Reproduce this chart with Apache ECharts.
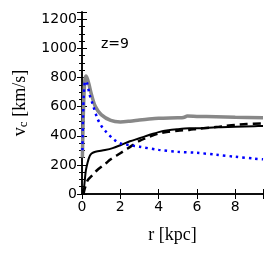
<!DOCTYPE html>
<html><head><meta charset="utf-8">
<script src="https://cdn.jsdelivr.net/npm/echarts@6/dist/echarts.min.js"></script>
<style>html,body{margin:0;padding:0;background:#fff}#c{width:275px;height:256px}</style>
</head><body><div id="c"></div>
<script>
const xTicks = [0, 2, 4, 6, 8];
const yTicks = [0, 200, 400, 600, 800, 1000, 1200];
const annotation = 'z=9';

const grayR = [0.02, 0.08, 0.15, 0.22, 0.35, 0.5, 0.7, 1.0, 1.5, 2.0, 2.5, 3.0, 3.5, 4.0, 5.0, 5.3, 5.5, 6.0, 7.0, 8.0, 9.45];
const grayV = [250, 600, 780, 810, 760, 680, 600, 545, 505, 495, 500, 508, 515, 520, 523, 525, 535, 533, 530, 527, 524];

const blueR = [0.02, 0.06, 0.1, 0.17, 0.25, 0.4, 0.55, 0.8, 1.0, 1.25, 1.7, 2.0, 2.5, 3.0, 4.0, 5.0, 6.0, 7.0, 8.0, 9.0, 9.45];
const blueV = [300, 550, 700, 775, 770, 680, 620, 520, 470, 428, 371, 348, 335, 325, 303, 290, 283, 270, 256, 243, 238];

const solidR = [0.08, 0.12, 0.15, 0.2, 0.29, 0.4, 0.5, 0.7, 1.2, 1.6, 2.0, 2.5, 3.0, 3.5, 4.0, 4.5, 5.0, 5.6, 6.2, 7.0, 8.0, 9.0, 9.45];
const solidV = [0, 60, 100, 160, 215, 260, 278, 290, 302, 315, 335, 362, 383, 405, 425, 438, 445, 451, 452, 459, 462, 466, 467];

const dashR = [0.08, 0.15, 0.3, 0.55, 0.8, 1.2, 1.5, 2.0, 2.4, 3.0, 3.5, 4.0, 4.5, 5.0, 5.6, 6.0, 7.0, 7.5, 8.0, 8.6, 9.45];
const dashV = [0, 40, 95, 130, 165, 205, 238, 280, 314, 365, 392, 415, 428, 435, 440, 447, 460, 468, 475, 481, 484];

const pairs = (r, v) => r.map((x, i) => [x, v[i]]);
const XMAX = 9.45, YMAX = 1250;

const chart = echarts.init(document.getElementById('c'), null, {renderer: 'canvas'});
const axisLine = {show: true, lineStyle: {color: '#000', width: 1.5}};
chart.setOption({
  animation: false,
  grid: {left: 82, right: 12, top: 12, bottom: 62},
  xAxis: [{
    type: 'value', min: 0, max: XMAX, interval: 2,
    name: 'r [kpc]', nameLocation: 'middle', nameGap: 32,
    nameTextStyle: {fontFamily: 'Liberation Serif', fontSize: 18, color: '#000'},
    axisLine: axisLine,
    axisTick: {show: true, inside: true, length: 5, lineStyle: {color: '#000', width: 1}},
    axisLabel: {fontFamily: 'DejaVu Sans', fontSize: 14, color: '#000', margin: 6,
      formatter: v => xTicks.includes(v) ? String(v) : ''},
    splitLine: {show: false}
  }, {
    type: 'value', position: 'top', min: 0, max: XMAX, interval: 2,
    axisLine: axisLine,
    axisTick: {show: true, inside: true, length: 5, lineStyle: {color: '#000', width: 1}},
    axisLabel: {show: false}, splitLine: {show: false}
  }],
  yAxis: [{
    type: 'value', min: 0, max: YMAX, interval: 200,
    name: '{v|v}{s|c} [km/s]', nameLocation: 'middle', nameGap: 47,
    nameTextStyle: {fontFamily: 'Liberation Serif', fontSize: 18, color: '#000',
      rich: {v: {fontFamily: 'Liberation Serif', fontSize: 18, color: '#000'},
             s: {fontFamily: 'Liberation Serif', fontSize: 13, color: '#000', verticalAlign: 'bottom', padding: [8, 0, 0, 0]}}},
    axisLine: axisLine,
    axisTick: {show: true, inside: true, length: 5, lineStyle: {color: '#000', width: 1}},
    minorTick: {show: true, splitNumber: 4, length: 3, lineStyle: {color: '#000', width: 1}},
    axisLabel: {fontFamily: 'DejaVu Sans', fontSize: 14, color: '#000', margin: 5,
      formatter: v => yTicks.includes(v) ? String(v) : ''},
    splitLine: {show: false}, minorSplitLine: {show: false}
  }, {
    type: 'value', position: 'right', min: 0, max: YMAX, interval: 200,
    axisLine: axisLine,
    axisTick: {show: true, inside: true, length: 5, lineStyle: {color: '#000', width: 1}},
    minorTick: {show: true, splitNumber: 4, length: 3, lineStyle: {color: '#000', width: 1}},
    axisLabel: {show: false}, splitLine: {show: false}
  }],
  graphic: [{type: 'text', left: 101, top: 37,
    style: {text: annotation, fontFamily: 'DejaVu Sans', fontSize: 14, fill: '#000'}}],
  series: [
    {type: 'line', data: pairs(grayR, grayV), smooth: 0.3, showSymbol: false,
      lineStyle: {color: '#888888', width: 3.5}},
    {type: 'line', data: pairs(solidR, solidV), smooth: 0.3, showSymbol: false,
      lineStyle: {color: '#000', width: 2}},
    {type: 'line', data: pairs(dashR, dashV), smooth: 0.3, showSymbol: false,
      lineStyle: {color: '#000', width: 2.5, type: [8, 5]}},
    {type: 'line', data: pairs(blueR, blueV), smooth: 0.3, showSymbol: false,
      lineStyle: {color: '#0000ff', width: 2.5, type: [2.5, 4]}}
  ]
});
</script></body></html>
